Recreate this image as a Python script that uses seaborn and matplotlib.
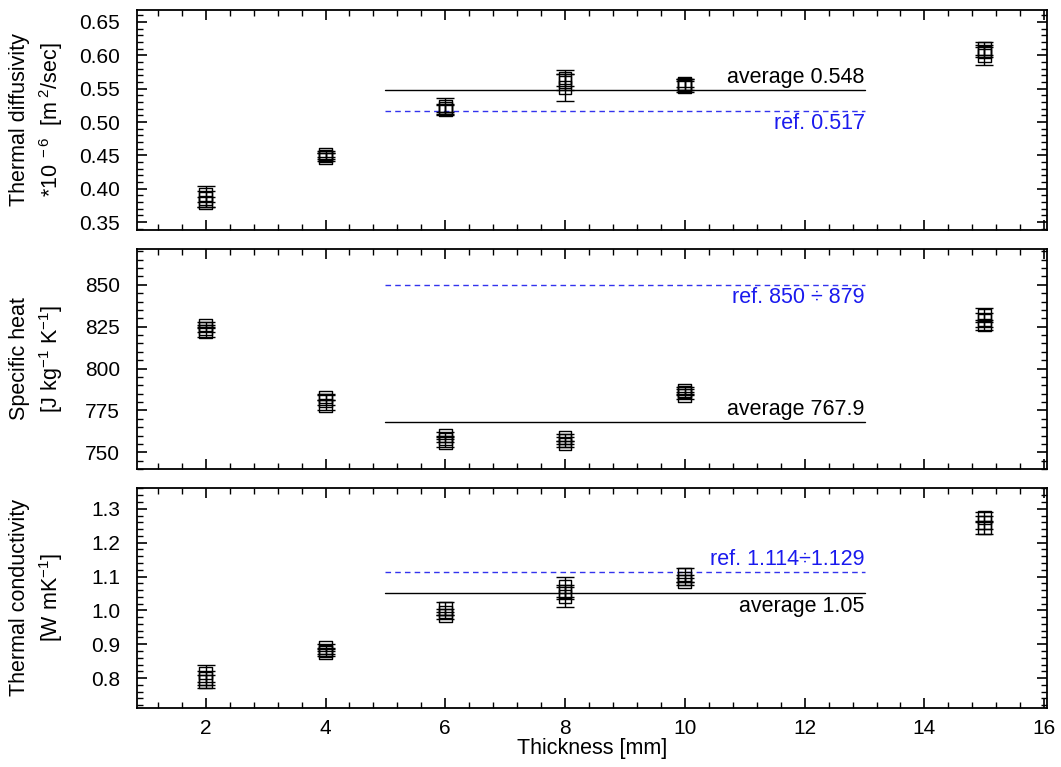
import numpy as np
import pandas as pd
import matplotlib
matplotlib.use("Agg")
import matplotlib.pyplot as plt
from matplotlib.ticker import MultipleLocator
import seaborn as sns

sns.set_theme(style="ticks")
plt.rcParams['font.family'] = ['Liberation Sans', 'DejaVu Sans']
plt.rcParams['mathtext.fontset'] = 'custom'
plt.rcParams['mathtext.rm'] = 'Liberation Sans'
plt.rcParams['mathtext.it'] = 'Liberation Sans'

thickness = [2, 2, 2, 4, 4, 4, 6, 6, 6, 8, 8, 8, 10, 10, 10, 15, 15, 15]

diff_val = [0.385, 0.392, 0.380, 0.447, 0.452, 0.449, 0.518, 0.524, 0.521, 0.552, 0.560, 0.566, 0.553, 0.558, 0.556, 0.600, 0.610, 0.605]
diff_err = [0.012, 0.012, 0.008, 0.006, 0.005, 0.005, 0.008, 0.012, 0.006, 0.020, 0.012, 0.012, 0.008, 0.006, 0.008, 0.015, 0.010, 0.008]

heat_val = [822, 824, 826, 778, 781, 783, 756, 758, 760, 755, 757, 759, 784, 786, 787, 826, 829, 832]
heat_err = [3, 2, 2, 3, 3, 2, 3, 2, 2, 2, 2, 2, 2, 2, 2, 3, 4, 4]

cond_val = [0.79, 0.80, 0.815, 0.875, 0.88, 0.89, 0.985, 0.995, 1.005, 1.04, 1.055, 1.07, 1.085, 1.095, 1.105, 1.245, 1.26, 1.275]
cond_err = [0.02, 0.02, 0.025, 0.01, 0.01, 0.01, 0.01, 0.01, 0.02, 0.03, 0.02, 0.03, 0.01, 0.01, 0.02, 0.02, 0.02, 0.015]

avg_vals = [0.548, 767.9, 1.05]
ref_vals = [0.517, 850, 1.114]
avg_labels = ["average 0.548", "average 767.9", "average 1.05"]
ref_labels = ["ref. 0.517", "ref. 850 \u00f7 879", "ref. 1.114\u00f71.129"]
line_x = [5, 13]

ylabels = ["Thermal diffusivity\n*10$^{\\ -6}$  [m$^{\\ 2}$/sec]",
           "Specific heat\n[J kg$^{-1}$ K$^{-1}$]",
           "Thermal conductivity\n[W mK$^{-1}$]"]
ylims = [(0.338, 0.668), (740, 871.5), (0.712, 1.362)]
ymajor = [0.05, 25, 0.1]
yminor = [0.01, 5, 0.02]
yfmt = ["{:.2f}", "{:.0f}", "{:.1f}"]
avg_above = [True, True, False]
ref_above = [False, False, True]

FS = 15.5

fig, axes = plt.subplots(3, 1, figsize=(10.61, 7.67), dpi=100, sharex=True)
fig.subplots_adjust(left=0.129, right=0.987, top=0.987, bottom=0.077, hspace=0.085)

series = [(diff_val, diff_err), (heat_val, heat_err), (cond_val, cond_err)]
for i, ax in enumerate(axes):
    vals, errs = series[i]
    df = pd.DataFrame({"x": thickness, "y": vals, "e": errs})
    ax.errorbar(df["x"], df["y"], yerr=df["e"], fmt="none", ecolor="black",
                elinewidth=1, capsize=6.5, capthick=1, zorder=3)
    sns.scatterplot(data=df, x="x", y="y", marker="s", s=85, facecolor="none",
                    edgecolor="black", linewidth=1, ax=ax, zorder=4)
    ax.plot(line_x, [avg_vals[i]] * 2, color="black", lw=1)
    ax.plot(line_x, [ref_vals[i]] * 2, color="#3333ee", lw=1, ls=(0, (4, 3)))
    yr = ylims[i][1] - ylims[i][0]
    off = yr * 0.01
    if avg_above[i]:
        ax.text(13, avg_vals[i] + off, avg_labels[i], ha="right", va="bottom", fontsize=FS, color="black")
    else:
        ax.text(13, avg_vals[i] - off, avg_labels[i], ha="right", va="top", fontsize=FS, color="black")
    if ref_above[i]:
        ax.text(13, ref_vals[i] + off, ref_labels[i], ha="right", va="bottom", fontsize=FS, color="#1a1aee")
    else:
        ax.text(13, ref_vals[i] - off, ref_labels[i], ha="right", va="top", fontsize=FS, color="#1a1aee")
    ax.set_ylim(*ylims[i])
    ax.set_xlim(0.85, 16.05)
    ax.yaxis.set_major_locator(MultipleLocator(ymajor[i]))
    ax.yaxis.set_minor_locator(MultipleLocator(yminor[i]))
    ax.xaxis.set_major_locator(MultipleLocator(2))
    ax.xaxis.set_minor_locator(MultipleLocator(0.4))
    ax.yaxis.set_major_formatter(matplotlib.ticker.FuncFormatter(lambda v, p, f=yfmt[i]: f.format(v)))
    ax.tick_params(which="both", direction="in", top=True, right=True, labelsize=15, color="black", labelcolor="black")
    ax.tick_params(which="major", length=7, width=1.2)
    ax.tick_params(which="minor", length=4, width=1)
    ax.tick_params(axis="y", which="major", pad=12)
    ax.tick_params(axis="x", which="major", pad=8)
    for sp in ax.spines.values():
        sp.set_linewidth(1.3)
        sp.set_color("black")
    ax.set_ylabel(ylabels[i], fontsize=FS, linespacing=1.35, color="black", labelpad=10)
    ax.set_xlabel("")

axes[2].set_xlabel("Thickness [mm]", fontsize=FS, labelpad=0, color="black")
fig.align_ylabels(axes)
fig.savefig("out.png", dpi=100)
